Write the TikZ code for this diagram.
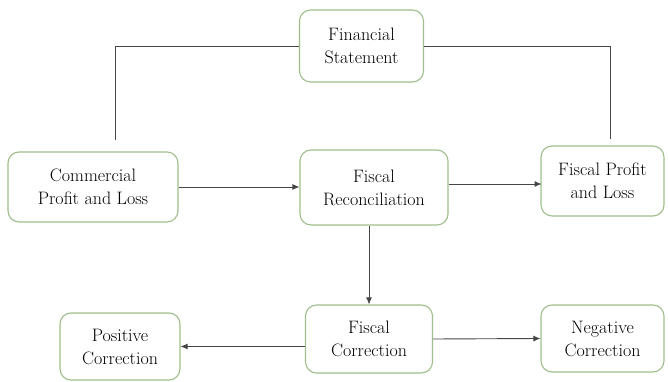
\documentclass[tikz,border=0pt]{standalone}
\usetikzlibrary{arrows.meta}
\definecolor{boxgreen}{RGB}{160,190,140}
\definecolor{linegray}{RGB}{70,70,70}

\begin{document}
\begin{tikzpicture}[x=1pt,y=1pt,
  box/.style={draw=boxgreen, line width=1.1pt, rounded corners=11pt, fill=white,
    align=center, inner sep=2pt, font=\fontsize{18}{23}\selectfont, text=black},
  conn/.style={draw=linegray, line width=0.9pt},
  arr/.style={conn, -{Latex[length=7pt,width=6pt]}}]
\useasboundingbox (0,0) rectangle (668,382);
\node[box, minimum width=124, minimum height=72](FS) at (361.5,336){Financial\\Statement};
\node[box, minimum width=170, minimum height=70](CPL) at (93,195){Commercial\\Profit and Loss};
\node[box, minimum width=148, minimum height=75](FR) at (374,194.5){Fiscal\\Reconciliation};
\node[box, minimum width=123, minimum height=70](FPL) at (602.5,201){Fiscal Profit\\and Loss};
\node[box, minimum width=127, minimum height=68](FC) at (369,43){Fiscal\\Correction};
\node[box, minimum width=120, minimum height=67](PC) at (120,35.5){Positive\\Correction};
\node[box, minimum width=123, minimum height=67](NC) at (602.5,43.5){Negative\\Correction};
\coordinate (CPLtop) at (115,242);
\coordinate (FPLtop) at (610,243);
\draw[conn] (FS.west) -| (CPLtop);
\draw[conn] (FS.east) -| (FPLtop);
\draw[arr] (CPL.east) -- (CPL.east -| FR.west);
\draw[arr] (FR.east |- FPL.center) ++(0,-3) -- ++(93,0);
\draw[arr] (FR.south -| FC.north) -- (FC.north);
\draw[arr] (FC.west |- PC.east) -- (PC.east);
\draw[arr] (FC.east) -- (NC.west);
\end{tikzpicture}
\end{document}
